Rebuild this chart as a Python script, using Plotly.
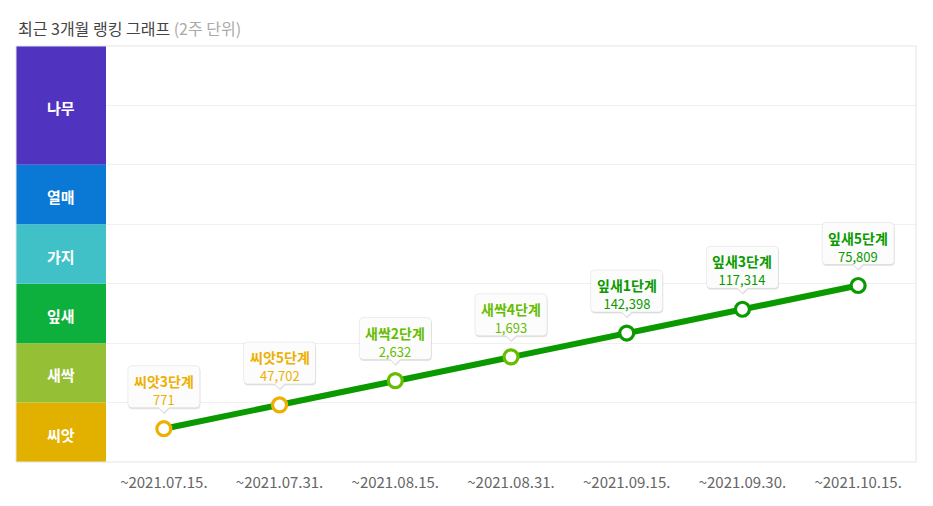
import plotly.graph_objects as go

# ---------------- data ----------------
periods = ["~2021.07.15.", "~2021.07.31.", "~2021.08.15.", "~2021.08.31.",
           "~2021.09.15.", "~2021.09.30.", "~2021.10.15."]
stage_names = ["씨앗3단계", "씨앗5단계", "새싹2단계", "새싹4단계",
               "잎새1단계", "잎새3단계", "잎새5단계"]
rank_counts = [771, 47702, 2632, 1693, 142398, 117314, 75809]
levels = [0.56, 0.96, 1.37, 1.77, 2.17, 2.57, 2.97]

tiers = ["씨앗", "새싹", "잎새", "가지", "열매", "나무"]
tier_low = [0, 1, 2, 3, 4, 5]
tier_high = [1, 2, 3, 4, 5, 7]
tier_colors = ["#E2B100", "#95C035", "#0DB03D", "#40C1C8", "#0A78D5", "#5034C0"]
point_colors = {"씨앗": "#EDB000", "새싹": "#66BD00", "잎새": "#0A9A00"}

title_main = "최근 3개월 랭킹 그래프"
title_sub = "(2주 단위)"

FONT = "Noto Sans CJK KR, Noto Sans, sans-serif"
LINE_COLOR = "#0A9A00"

fig = go.Figure()

marker_cols = [point_colors[s[:2]] for s in stage_names]

fig.add_trace(go.Scatter(
    x=periods, y=levels, mode="lines+markers",
    line=dict(color=LINE_COLOR, width=6),
    marker=dict(size=14, color="white", line=dict(color=marker_cols, width=3.2)),
    hoverinfo="skip", showlegend=False, cliponaxis=False,
))

shapes = []
annotations = []

# outer frame
shapes.append(dict(type="rect", xref="paper", yref="paper", x0=0, x1=1, y0=0, y1=1,
                   line=dict(color="#E4E4E4", width=1), fillcolor="rgba(0,0,0,0)",
                   layer="above"))

# tier bands on the left
for name, lo, hi, col in zip(tiers, tier_low, tier_high, tier_colors):
    shapes.append(dict(type="rect", xref="paper", yref="y", x0=0, x1=0.1, y0=lo, y1=hi,
                       fillcolor=col, line=dict(width=0), layer="below"))
    annotations.append(dict(xref="paper", yref="y", x=0.05, y=(lo + hi) / 2,
                            text="<b>%s</b>" % name, showarrow=False,
                            font=dict(family=FONT, size=15, color="white"),
                            xanchor="center", yanchor="middle", yshift=-2))


def bubble_path(w, bottom, top, r, tip, aw, dx=0.0, dy=0.0):
    hw = w / 2.0
    L, R = -hw + dx, hw + dx
    B, T = bottom + dy, top + dy
    return (f"M {L + r},{T} L {R - r},{T} Q {R},{T} {R},{T - r} "
            f"L {R},{B + r} Q {R},{B} {R - r},{B} "
            f"L {aw + dx},{B} L {dx},{tip + dy} L {-aw + dx},{B} "
            f"L {L + r},{B} Q {L},{B} {L},{B + r} "
            f"L {L},{T - r} Q {L},{T} {L + r},{T} Z")


for p, lv, name, cnt in zip(periods, levels, stage_names, rank_counts):
    col = point_colors[name[:2]]
    # soft shadow
    shapes.append(dict(type="path", xref="x", yref="y", xsizemode="pixel", ysizemode="pixel",
                       xanchor=p, yanchor=lv,
                       path=bubble_path(72, 21, 63, 4, 16, 5, 0.5, -1.5),
                       fillcolor="rgba(0,0,0,0.10)", line=dict(width=0), layer="above"))
    shapes.append(dict(type="path", xref="x", yref="y", xsizemode="pixel", ysizemode="pixel",
                       xanchor=p, yanchor=lv,
                       path=bubble_path(72, 21, 63, 4, 16, 5),
                       fillcolor="#FCFCFC", line=dict(color="rgba(0,0,0,0.07)", width=1),
                       layer="above"))
    annotations.append(dict(x=p, y=lv, xref="x", yref="y",
                            text=f"<b>{name}</b><br><span style='font-size:13px'>{cnt:,}</span>",
                            showarrow=False, yshift=39, xanchor="center", yanchor="middle",
                            align="center",
                            font=dict(family=FONT, size=14, color=col)))

# title
annotations.append(dict(xref="paper", yref="paper", x=0, y=1, yshift=18, xshift=0,
                        xanchor="left", yanchor="middle", showarrow=False,
                        text=f"{title_main} <span style='color:#AAAAAA'>{title_sub}</span>",
                        font=dict(family=FONT, size=16, color="#444444")))

fig.update_layout(
    width=925, height=498,
    margin=dict(l=8, r=17, t=38, b=44),
    paper_bgcolor="white", plot_bgcolor="white",
    shapes=shapes, annotations=annotations,
    showlegend=False,
    xaxis=dict(domain=[0.1, 1], type="category", range=[-0.5, 6.5],
               showgrid=False, zeroline=False, showline=False,
               ticks="outside", ticklen=7, tickcolor="rgba(0,0,0,0)",
               tickfont=dict(family=FONT, size=15, color="#666666"), fixedrange=True),
    yaxis=dict(range=[0, 7], dtick=1, showticklabels=False, showgrid=True,
               gridcolor="#F0F0F0", gridwidth=1, zeroline=False, showline=False,
               fixedrange=True),
)

fig.write_html("out.html")
